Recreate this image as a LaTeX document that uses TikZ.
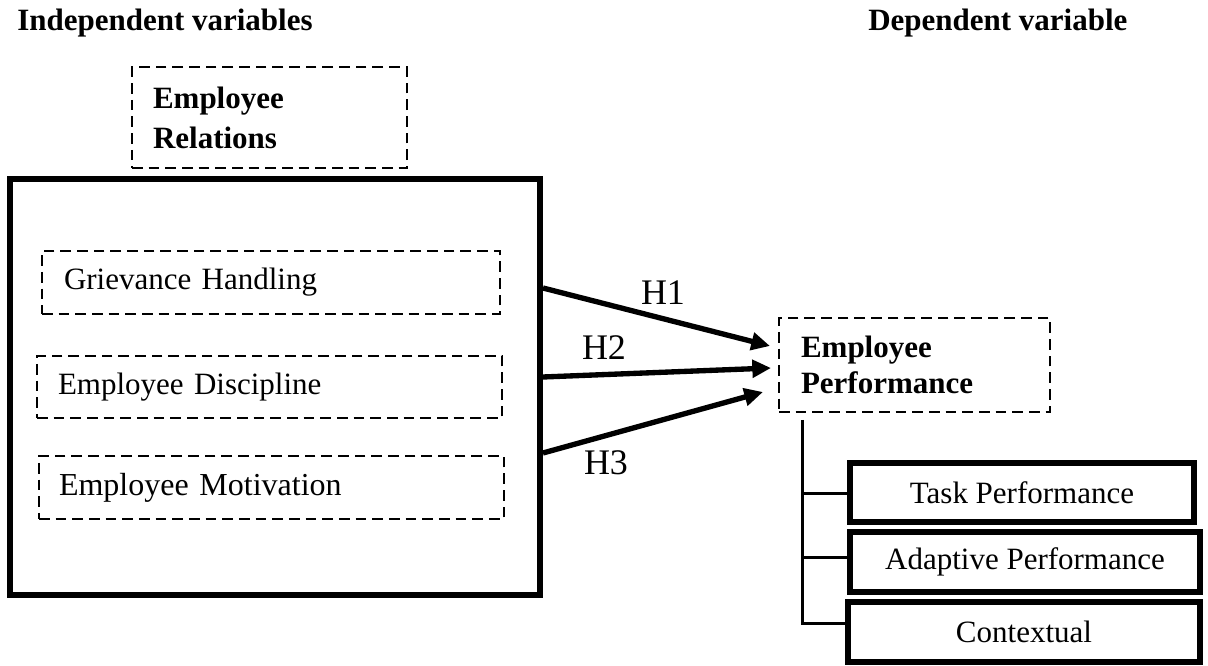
\documentclass[tikz,border=0pt]{standalone}
\usepackage{fontspec}
\setmainfont{Liberation Serif}
\usetikzlibrary{arrows.meta,calc}
\begin{document}
\begin{tikzpicture}[x=0.75pt,y=-0.75pt,
  txt/.style={font=\fontsize{23.25}{28.5}\selectfont},
  btxt/.style={font=\bfseries\fontsize{23.25}{28.5}\selectfont},
  dbox/.style={draw, line width=1.5pt, dash pattern=on 8pt off 4.5pt, align=left, inner ysep=0pt},
  tbox/.style={draw, line width=4.5pt, inner sep=0pt, align=center, txt},
  arr/.style={line width=4pt, -{Triangle[length=14pt,width=13pt]}},
  hlab/.style={font=\fontsize{27}{30}\selectfont},
  tree/.style={line width=2.25pt}
]
\useasboundingbox (0,0) rectangle (1208,666);
% headers
\node[btxt, anchor=base west, inner sep=0pt] (ivh) at (17,31) {Independent variables};
\node[btxt, anchor=base west, inner sep=0pt] (dvh) at (868,31) {Dependent variable};
% employee relations
\node[dbox, font=\bfseries\fontsize{23.25}{28.5}\selectfont, minimum width=206.25pt, minimum height=75.75pt, text width=174.75pt, inner xsep=15.75pt] (rel) at (269.5,118) {Employee\\[1pt]Relations};
% big box
\node[draw, line width=4.5pt, minimum width=397.5pt, minimum height=312pt, inner sep=0pt] (iv) at (275,387) {};
% inner boxes
\node[dbox, txt, minimum width=343.5pt, minimum height=47.25pt, text width=310.5pt, inner xsep=16.5pt] (grv) at (271,282.5) {Grievance Handling};
\node[dbox, txt, minimum width=348.75pt, minimum height=46.5pt, text width=317.25pt, inner xsep=15.75pt] (dis) at (269.5,387) {Employee Discipline};
\node[dbox, font=\fontsize{24}{28.5}\selectfont, minimum width=348.75pt, minimum height=47.25pt, text width=318.75pt, inner xsep=15pt] (mot) at (271.5,487.5) {Employee Motivation};
% dependent
\node[dbox, font=\bfseries\fontsize{23.25}{27}\selectfont, minimum width=203.25pt, minimum height=70.5pt, text width=170.25pt, inner xsep=16.5pt] (perf) at (914.5,365) {Employee\\Performance};
% dimension boxes
\node[tbox, minimum width=258pt, minimum height=44.25pt] (task) at (1022,492.5) {Task Performance};
\node[tbox, minimum width=262.5pt, minimum height=45pt] (adapt) at (1025,562) {Adaptive Performance};
\node[tbox, minimum width=264pt, minimum height=45pt] (ctx) at (1024,632) {Contextual};
% arrows
\draw[arr] (iv.east |- 0,288) -- ($(perf.west)+(-8,-19)$);
\draw[arr] (iv.east |- 0,377) -- ($(perf.west)+(-7,3)$);
\draw[arr] (iv.east |- 0,453) -- ($(perf.west)+(-15,27)$);
\node[hlab] (h1) at (663,293) {H1};
\node[hlab] (h2) at (604,348) {H2};
\node[hlab] (h3) at (606,463) {H3};
% tree
\coordinate (trunk) at (802,420);
\coordinate (trunkend) at (802,624);
\coordinate (b1) at (802,494);
\coordinate (b2) at (802,558);
\draw[tree] (trunk) -- (trunkend) -- (ctx.west |- trunkend);
\draw[tree] (b1) -- (task.west |- b1);
\draw[tree] (b2) -- (adapt.west |- b2);
\end{tikzpicture}
\end{document}
